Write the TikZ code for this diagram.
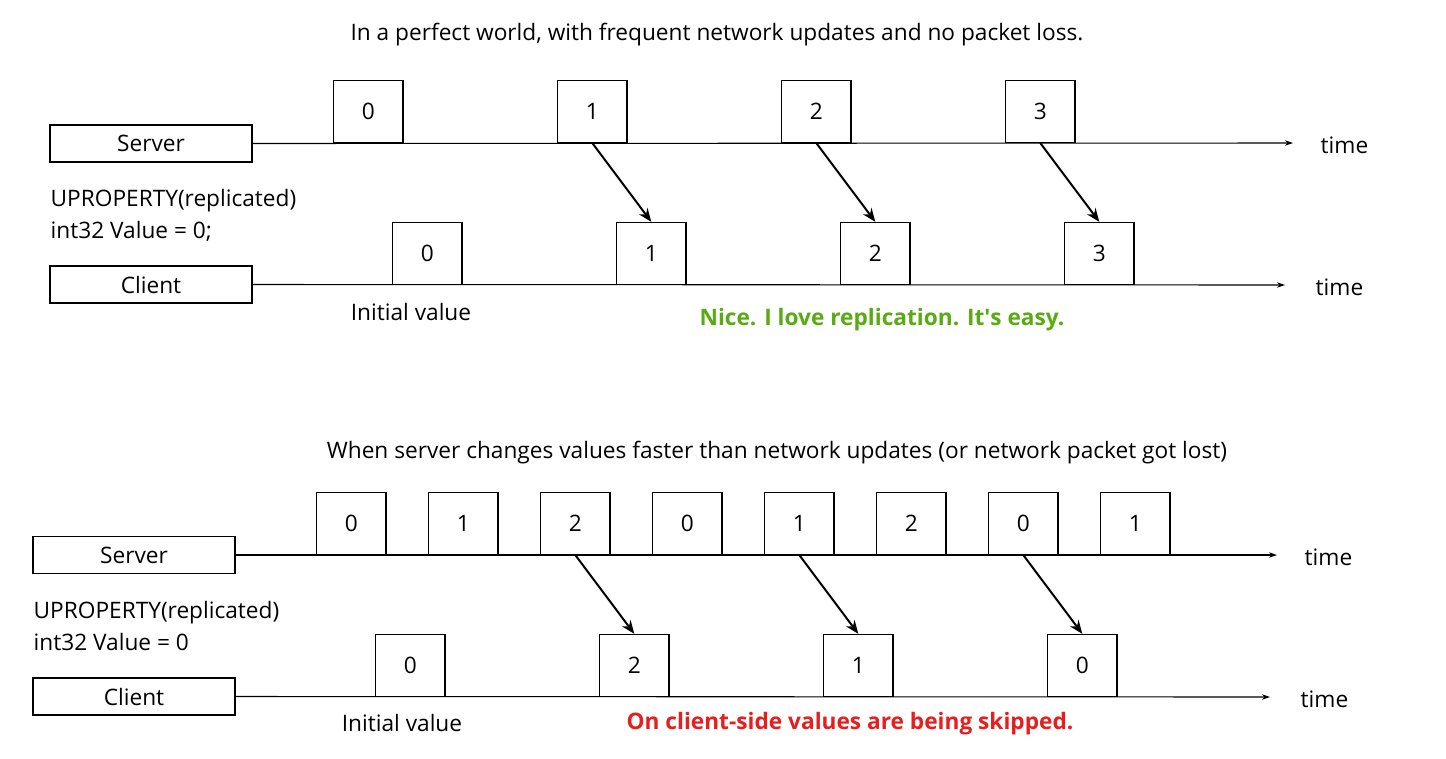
\documentclass[tikz,border=0pt]{standalone}
\usepackage{fontspec}
\setmainfont{Open Sans}
\usetikzlibrary{arrows.meta}
\begin{document}
\begin{tikzpicture}[x=0.75pt,y=-0.75pt,
  lab/.style={font=\fontsize{17}{24}\selectfont},
  role/.style={draw,line width=0.9pt,minimum width=151.5pt,minimum height=27.75pt,inner sep=0,font=\fontsize{17}{20}\selectfont},
  val/.style={draw,line width=0.9pt,minimum width=52pt,minimum height=46.5pt,inner sep=0,anchor=south west,font=\fontsize{17}{20}\selectfont},
  tl/.style={line width=0.8pt,-{Stealth[length=6pt,width=4pt]}},
  up/.style={line width=1.5pt,-{Stealth[length=10pt,width=8pt]}}]
\useasboundingbox (0,0) rectangle (1446,758);
% top
\node[lab] (t1) at (717,35) {In a perfect world, with frequent network updates and no packet loss.};
\node[role] (s1) at (151,143.5) {Server};
\coordinate (s1e) at (1293,143);
\draw[tl] (s1.east) -- (s1e);
\node[lab,anchor=west] (time1) at (1316,145) {time};
\node[lab,anchor=west,align=left] (u1) at (46,215) {UPROPERTY(replicated)\\int32 Value = 0;};
\node[role] (c1) at (151,284.5) {Client};
\coordinate (c1e) at (1285,285);
\draw[tl] (c1.east) -- (c1e);
\node[lab,anchor=west] (time2) at (1311,287) {time};
\foreach \n/\x/\v in {a/333/0,b/557/1,c/781/2,d/1005/3}
  \node[val] (ts\n) at (\x,143) {\v};
\foreach \n/\x/\v in {a/392/0,b/616/1,c/840/2,d/1064/3}
  \node[val] (tc\n) at (\x,285) {\v};
\foreach \n in {b,c,d} \draw[up] (ts\n.south) -- (tc\n.north);
\node[lab] (i1) at (411,312) {Initial value};
\node[lab,font=\fontsize{17}{20}\selectfont\bfseries,text={rgb,255:red,90;green,170;blue,20}] (g) at (882,320) {Nice. I love replication. It\textquotesingle s easy.};
% bottom
\node[lab] (t2) at (777,453) {When server changes values faster than network updates (or network packet got lost)};
\node[role] (s2) at (134,555) {Server};
\coordinate (s2e) at (1277,555);
\draw[tl] (s2.east) -- (s2e);
\node[lab,anchor=west] (time3) at (1300,557) {time};
\node[lab,anchor=west,align=left] (u2) at (29,626) {UPROPERTY(replicated)\\int32 Value = 0};
\node[role] (c2) at (134,696.5) {Client};
\coordinate (c2e) at (1270,697);
\draw[tl] (c2.east) -- (c2e);
\node[lab,anchor=west] (time4) at (1296,699) {time};
\foreach \n/\x/\v in {a/316/0,b/428/1,c/540/2,d/652/0,e/764/1,f/876/2,g/988/0,h/1100/1}
  \node[val] (bs\n) at (\x,555) {\v};
\foreach \n/\x/\v in {a/375/0,b/599/2,c/823/1,d/1047/0}
  \node[val] (bc\n) at (\x,697) {\v};
\draw[up] (bsc.south) -- (bcb.north);
\draw[up] (bse.south) -- (bcc.north);
\draw[up] (bsg.south) -- (bcd.north);
\node[lab] (i2) at (402,723) {Initial value};
\node[lab,font=\fontsize{17}{20}\selectfont\bfseries,text={rgb,255:red,230;green,30;blue,30}] (r) at (850,724) {On client-side values are being skipped.};
\end{tikzpicture}
\end{document}
